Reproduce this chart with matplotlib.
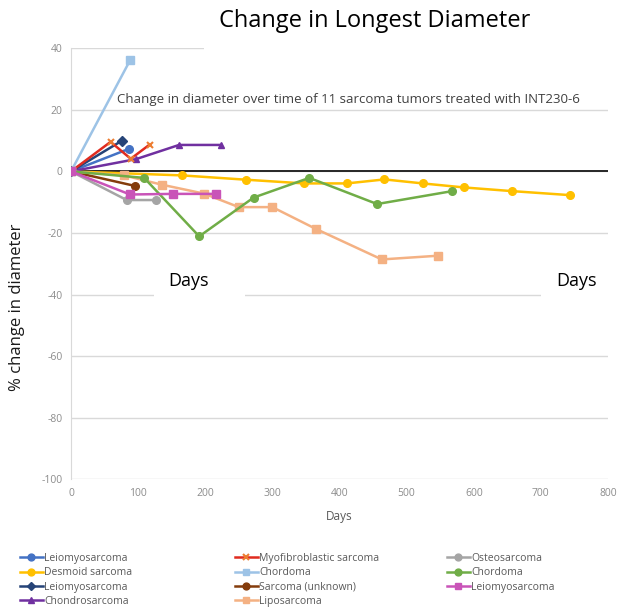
import matplotlib
matplotlib.use("Agg")
import matplotlib.pyplot as plt
from matplotlib.patches import Rectangle

plt.rcParams['font.family'] = ['Open Sans', 'DejaVu Sans']
plt.rcParams['axes.unicode_minus'] = False

W, H = 618, 609

# days on study and % change in longest diameter, one pair per tumour
leio1_days = [0, 86]
leio1_pct = [0, 7.3]
myofib_days = [0, 59, 89, 117]
myofib_pct = [0, 9.6, 4.1, 8.7]
osteo_days = [0, 83, 126]
osteo_pct = [0, -9.3, -9.3]
desmoid_days = [0, 166, 261, 347, 411, 467, 524, 585, 657, 743]
desmoid_pct = [0, -1.3, -2.7, -3.9, -3.9, -2.6, -3.9, -5.2, -6.4, -7.7]
chordoma1_days = [0, 88]
chordoma1_pct = [0, 36.1]
chordoma2_days = [0, 109, 191, 272, 355, 456, 568]
chordoma2_pct = [0, -2.1, -21.1, -8.5, -2.1, -10.6, -6.4]
leio2_days = [0, 76]
leio2_pct = [0, 10.0]
unknown_days = [0, 95]
unknown_pct = [0, -4.7]
leio3_days = [0, 88, 152, 216]
leio3_pct = [0, -7.5, -7.3, -7.3]
chondro_days = [0, 97, 161, 224]
chondro_pct = [0, 4.0, 8.6, 8.6]
lipo_days = [0, 79, 135, 198, 250, 300, 365, 463, 546]
lipo_pct = [0, -1.3, -4.3, -7.2, -11.6, -11.6, -18.7, -28.6, -27.4]

x_ticks = [0, 100, 200, 300, 400, 500, 600, 700, 800]
y_ticks = [-100, -80, -60, -40, -20, 0, 20, 40]

# label, days, values, line colour, marker, marker colour (legend column order)
series = [
    ("Leiomyosarcoma", leio1_days, leio1_pct, "#4472C4", "o", "#4472C4"),
    ("Desmoid sarcoma", desmoid_days, desmoid_pct, "#FFC000", "o", "#FFC000"),
    ("Leiomyosarcoma", leio2_days, leio2_pct, "#264478", "D", "#264478"),
    ("Chondrosarcoma", chondro_days, chondro_pct, "#7030A0", "^", "#7030A0"),
    ("Myofibroblastic sarcoma", myofib_days, myofib_pct, "#E02B1F", "x", "#ED7D31"),
    ("Chordoma", chordoma1_days, chordoma1_pct, "#9DC3E6", "s", "#9DC3E6"),
    ("Sarcoma (unknown)", unknown_days, unknown_pct, "#843C0C", "o", "#843C0C"),
    ("Liposarcoma", lipo_days, lipo_pct, "#F4B183", "s", "#F4B183"),
    ("Osteosarcoma", osteo_days, osteo_pct, "#A5A5A5", "o", "#A5A5A5"),
    ("Chordoma", chordoma2_days, chordoma2_pct, "#70AD47", "o", "#70AD47"),
    ("Leiomyosarcoma", leio3_days, leio3_pct, "#C954B8", "s", "#C954B8"),
]


def fx(px):
    return px / W


def fy(py):
    return 1 - py / H


fig = plt.figure(figsize=(W / 100, H / 100), dpi=100)
ax = fig.add_axes([fx(71), fy(479.2), fx(608) - fx(71), fy(48.3) - fy(479.2)])

ax.set_xlim(0, 800)
ax.set_ylim(-100, 40)
ax.set_xticks(x_ticks)
ax.set_yticks(y_ticks)
ax.tick_params(length=0, labelsize=7.5, labelcolor="#8C8C8C", pad=6)
ax.grid(axis="y", color="#D9D9D9", lw=1)
ax.set_axisbelow(True)
for side in ["top", "right", "bottom"]:
    ax.spines[side].set_visible(False)
ax.spines["left"].set_color("#D9D9D9")
ax.axhline(0, color="#262626", lw=1.4, zorder=1)

handles = []
for label, d, v, lc, mk, mc in series:
    ms = 5.5 if mk in ("o", "s") else 5
    h, = ax.plot(d, v, color=lc, lw=1.8, marker=mk, ms=ms,
                 markerfacecolor=mc, markeredgecolor=mc, mew=1.5 if mk == "x" else 1,
                 label=label, zorder=3)
    handles.append(h)

ax.set_xlabel("Days", fontsize=8.5, color="#595959", labelpad=8)
ax.set_ylabel("% change in diameter", fontsize=12, color="#1A1A1A")
ax.yaxis.set_label_coords(-0.086, 0.40)

fig.text(fx(117), fy(100), "Change in diameter over time of 11 sarcoma tumors treated with INT230-6",
         fontsize=9.5, color="#404040", va="center")

# white panels behind the title and the "Days" captions
for x0, y0, x1, y1 in [(204, 0, W, 53), (154, 266, 245, 300), (541, 266, 612, 300)]:
    fig.add_artist(Rectangle((fx(x0), fy(y1)), fx(x1) - fx(x0), fy(y0) - fy(y1),
                             transform=fig.transFigure, facecolor="white",
                             edgecolor="none", zorder=5))

fig.text(fx(375), fy(21), "Change in Longest Diameter", fontsize=17, color="black",
         ha="center", va="center", zorder=6)
fig.text(fx(189), fy(281), "Days", fontsize=13, color="black", ha="center", va="center", zorder=6)
fig.text(fx(576), fy(281), "Days", fontsize=13, color="black", ha="center", va="center", zorder=6)

# legend split into three columns
col_x = [20, 235, 447]
for i, x0 in enumerate(col_x):
    hs = handles[i * 4:(i + 1) * 4]
    fig.legend(handles=hs, labels=[h.get_label() for h in hs], loc="upper left",
               bbox_to_anchor=(fx(x0), fy(553)), frameon=False, fontsize=7.5,
               handlelength=2.2, handletextpad=0.15, labelspacing=0.32,
               borderaxespad=0, borderpad=0, labelcolor="#595959", markerscale=0.9)

fig.savefig("out.png", dpi=100, facecolor="white")
